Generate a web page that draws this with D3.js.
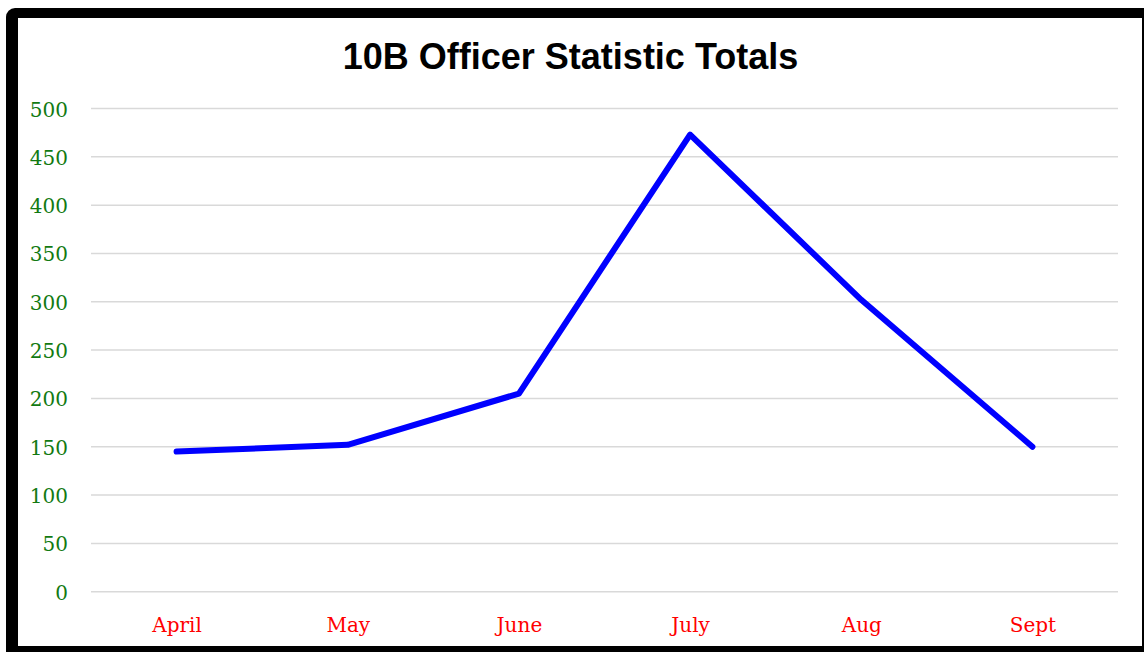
<!DOCTYPE html>
<meta charset='utf-8'>
<html>
    <head>
        <script src="https://d3js.org/d3.v7.min.js" charset="utf-8"></script>
        <style>
            body { margin: 0; background: #fff; }
        </style>
    </head>
    <body>
        <div id="chart-container"></div>
        <script>
            // chart data
            const months = ['April', 'May', 'June', 'July', 'Aug', 'Sept'];
            const totals = [145, 152, 205, 473, 302, 150];
            const yTicks = [0, 50, 100, 150, 200, 250, 300, 350, 400, 450, 500];
            const chartTitle = '10B Officer Statistic Totals';

            // overall SVG dimensions
            const svgWidth = 1144;
            const svgHeight = 652;

            // plot area
            const margin = {top: 108.5, left: 91, bottom: 60.3, right: 26};
            const w = svgWidth - margin.left - margin.right;
            const h = svgHeight - margin.top - margin.bottom;

            const svg = d3.select('#chart-container')
                .append('svg')
                .attr('width', svgWidth)
                .attr('height', svgHeight);

            // black frame round the chart
            svg.append('rect')
                .attr('x', 6)
                .attr('y', 8)
                .attr('width', 1160)
                .attr('height', 660)
                .attr('rx', 9)
                .attr('fill', '#000');

            svg.append('rect')
                .attr('x', 18)
                .attr('y', 18)
                .attr('width', 1124)
                .attr('height', 628)
                .attr('fill', '#fff');

            // title
            svg.append('text')
                .attr('x', 570.5)
                .attr('y', 69)
                .attr('text-anchor', 'middle')
                .style('font-family', '"Liberation Sans", Arial, sans-serif')
                .style('font-weight', 'bold')
                .style('font-size', '36px')
                .text(chartTitle);

            const chart = svg.append('g')
                .attr('transform', 'translate(' + margin.left + ',' + margin.top + ')');

            const xScale = d3.scalePoint()
                .domain(months)
                .range([0, w])
                .padding(0.5);

            const yScale = d3.scaleLinear()
                .domain([0, 500])
                .range([h, 0]);

            // gridlines
            chart.append('g')
                .selectAll('line')
                .data(yTicks)
                .enter().append('line')
                .attr('x1', 0)
                .attr('x2', w)
                .attr('y1', d => yScale(d))
                .attr('y2', d => yScale(d))
                .attr('stroke', '#d9d9d9')
                .attr('stroke-width', 1.5);

            // y axis labels
            const yAxis = chart.append('g')
                .call(d3.axisLeft(yScale).tickValues(yTicks).tickSize(0).tickPadding(23));
            yAxis.select('.domain').remove();
            yAxis.selectAll('text')
                .attr('dy', '7.5')
                .attr('fill', '#127a12')
                .style('font-family', '"DejaVu Serif", serif')
                .style('font-size', '20px');

            // x axis labels
            const xAxis = chart.append('g')
                .attr('transform', 'translate(0,' + h + ')')
                .call(d3.axisBottom(xScale).tickSize(0).tickPadding(0));
            xAxis.select('.domain').remove();
            xAxis.selectAll('text')
                .attr('y', 40)
                .attr('dy', 0)
                .attr('fill', '#ff0000')
                .style('font-family', '"DejaVu Serif", serif')
                .style('font-size', '20px');

            // the line
            const line = d3.line()
                .x((d, i) => xScale(months[i]))
                .y(d => yScale(d));

            chart.append('path')
                .datum(totals)
                .attr('d', line)
                .attr('fill', 'none')
                .attr('stroke', '#0000ff')
                .attr('stroke-width', 6)
                .attr('stroke-linejoin', 'round')
                .attr('stroke-linecap', 'round');
        </script>
    </body>
</html>
